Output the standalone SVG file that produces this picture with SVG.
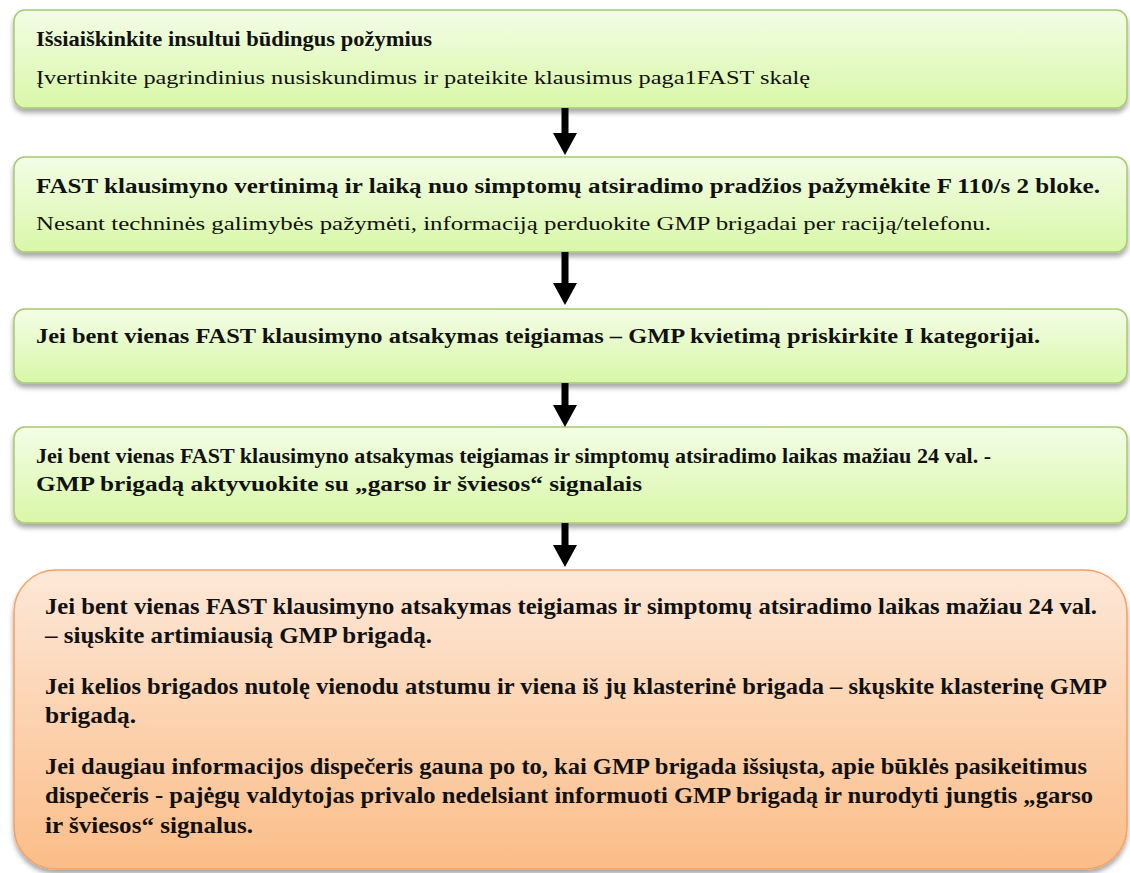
<svg xmlns="http://www.w3.org/2000/svg" width="1130" height="873" viewBox="0 0 1130 873">
<defs>
<linearGradient id="gG" x1="0" y1="0" x2="0" y2="1"><stop offset="0" stop-color="#f3fde6"/><stop offset="1" stop-color="#d9f7a8"/></linearGradient>
<linearGradient id="gO" x1="0" y1="0" x2="0" y2="1"><stop offset="0" stop-color="#fde8d8"/><stop offset="1" stop-color="#fbbd88"/></linearGradient>
<filter id="sh" x="-5%" y="-10%" width="110%" height="130%"><feDropShadow dx="0" dy="4" stdDeviation="2.5" flood-color="#000" flood-opacity="0.35"/></filter>
</defs>
<style>
.g{fill:url(#gG);stroke:#a6c970;stroke-width:1.5;filter:url(#sh)}
.o{fill:url(#gO);stroke:#f8a060;stroke-width:1.5;filter:url(#sh)}
.b{font-family:"Liberation Serif","Times New Roman",serif;font-weight:bold;font-size:20px;fill:#111}
.r{font-family:"Liberation Serif","Times New Roman",serif;font-size:19px;fill:#111}
.bo{font-family:"Liberation Serif","Times New Roman",serif;font-weight:bold;font-size:22.5px;fill:#111}
.a{fill:#000}
</style>
<g id="n1">
<rect class="g" x="14" y="10" width="1113" height="98" rx="11"/>
<text class="b" x="36" y="46" textLength="396" lengthAdjust="spacingAndGlyphs">Išsiaiškinkite insultui būdingus požymius</text>
<text class="r" x="36" y="84" textLength="774" lengthAdjust="spacingAndGlyphs">Įvertinkite pagrindinius nusiskundimus ir pateikite klausimus paga1FAST skalę</text>
</g>
<g id="n2">
<rect class="g" x="14" y="157" width="1113" height="95" rx="11"/>
<text class="b" x="36" y="193" textLength="1064" lengthAdjust="spacingAndGlyphs">FAST klausimyno vertinimą ir laiką nuo simptomų atsiradimo pradžios pažymėkite F 110/s 2 bloke.</text>
<text class="r" x="36" y="230" textLength="955" lengthAdjust="spacingAndGlyphs">Nesant techninės galimybės pažymėti, informaciją perduokite GMP brigadai per raciją/telefonu.</text>
</g>
<g id="n3">
<rect class="g" x="14" y="309" width="1113" height="74" rx="11"/>
<text class="b" x="36" y="343" textLength="1004" lengthAdjust="spacingAndGlyphs">Jei bent vienas FAST klausimyno atsakymas teigiamas – GMP kvietimą priskirkite I kategorijai.</text>
</g>
<g id="n4">
<rect class="g" x="14" y="427" width="1113" height="96" rx="11"/>
<text class="b" x="36" y="463" textLength="955" lengthAdjust="spacingAndGlyphs">Jei bent vienas FAST klausimyno atsakymas teigiamas ir simptomų atsiradimo laikas mažiau 24 val. -</text>
<text class="b" x="36" y="491" textLength="606" lengthAdjust="spacingAndGlyphs">GMP brigadą aktyvuokite su „garso ir šviesos“ signalais</text>
</g>
<g id="n5">
<rect class="o" x="14" y="570" width="1113" height="299" rx="42"/>
<text class="bo" x="45" y="614" textLength="1052" lengthAdjust="spacingAndGlyphs">Jei bent vienas FAST klausimyno atsakymas teigiamas ir simptomų atsiradimo laikas mažiau 24 val.</text>
<text class="bo" x="45" y="643" textLength="387" lengthAdjust="spacingAndGlyphs">– siųskite artimiausią GMP brigadą.</text>
<text class="bo" x="45" y="694" textLength="1062" lengthAdjust="spacingAndGlyphs">Jei kelios brigados nutolę vienodu atstumu ir viena iš jų klasterinė brigada – skųskite klasterinę GMP</text>
<text class="bo" x="45" y="723" textLength="91" lengthAdjust="spacingAndGlyphs">brigadą.</text>
<text class="bo" x="45" y="774" textLength="1042" lengthAdjust="spacingAndGlyphs">Jei daugiau informacijos dispečeris gauna po to, kai GMP brigada išsiųsta, apie būklės pasikeitimus</text>
<text class="bo" x="45" y="803" textLength="1048" lengthAdjust="spacingAndGlyphs">dispečeris - pajėgų valdytojas privalo nedelsiant informuoti GMP brigadą ir nurodyti jungtis „garso</text>
<text class="bo" x="45" y="833" textLength="208" lengthAdjust="spacingAndGlyphs">ir šviesos“ signalus.</text>
</g>
<g id="connectors">
<path class="a" d="M561.5 108 H568.5 V133 H577 L565 155 L553 133 H561.5 Z"/>
<path class="a" d="M561.5 252 H568.5 V283 H577 L565 305 L553 283 H561.5 Z"/>
<path class="a" d="M561.5 383 H568.5 V405 H577 L565 427 L553 405 H561.5 Z"/>
<path class="a" d="M561.5 523 H568.5 V545 H577 L565 567 L553 545 H561.5 Z"/>
</g>
</svg>
